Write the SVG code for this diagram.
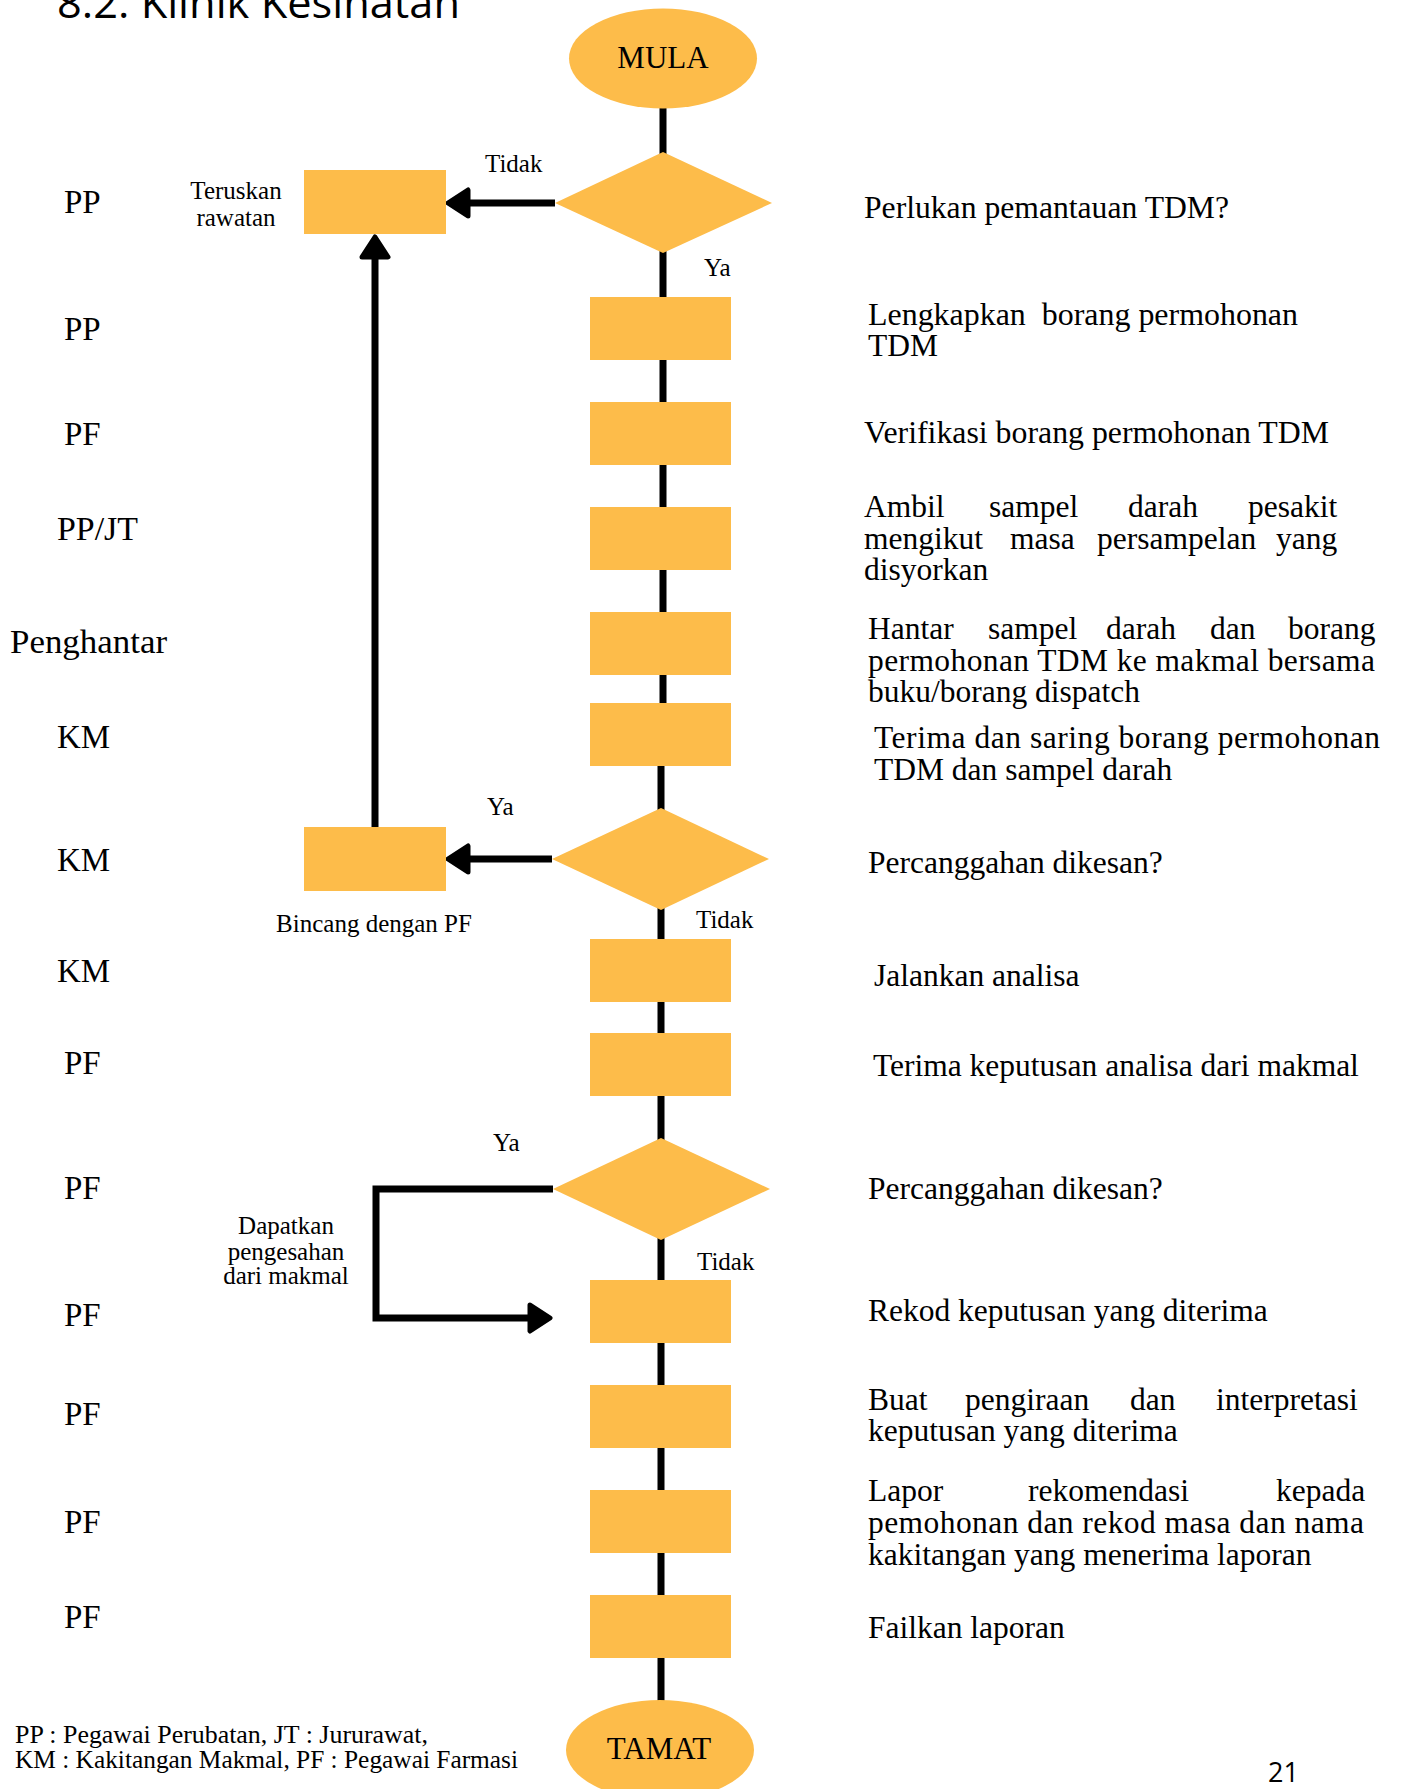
<svg xmlns="http://www.w3.org/2000/svg" width="1401" height="1789" viewBox="0 0 1401 1789">
<style>
.box{fill:#FDBC4A}
.t{font-family:"Liberation Serif","Times New Roman",serif;fill:#000}
.lab{font-size:33px}
.desc{font-size:31.5px}
.sm{font-size:25px}
.big{font-size:31px}
.conn{stroke:#000;stroke-width:7;fill:none;stroke-linejoin:miter}
.sans{font-family:"Open Sans","Liberation Sans",sans-serif;fill:#000}
</style>
<defs>
<marker id="ah" markerUnits="userSpaceOnUse" viewBox="-3 -17 28 34" markerWidth="28" markerHeight="34" refX="0" refY="0" orient="auto">
<path d="M0,-13 L20,0 L0,13 Z" fill="#000" stroke="#000" stroke-width="5" stroke-linejoin="round"/>
</marker>
</defs>
<rect width="1401" height="1789" fill="#fff"/>
<text class="sans" x="57" y="18" font-size="42" textLength="403" lengthAdjust="spacingAndGlyphs">8.2. Klinik Kesihatan</text>

<g id="connectors">
<path class="conn" d="M663,105 V720"/>
<path class="conn" d="M661,720 V1702"/>
<path class="conn" d="M555,203 H468" marker-end="url(#ah)"/>
<path class="conn" d="M552,859 H468" marker-end="url(#ah)"/>
<path class="conn" d="M375,830 V257" marker-end="url(#ah)"/>
<path class="conn" d="M553,1189 H376 V1318 H530" marker-end="url(#ah)"/>
</g>

<g id="mula"><ellipse class="box" cx="663" cy="58.5" rx="94" ry="50"/><text class="t big" x="663" y="68" text-anchor="middle">MULA</text></g>
<g id="d1"><polygon class="box" points="555,203 663,152 772,203 663,253"/></g>
<g id="teruskan"><rect class="box" x="304" y="170" width="142" height="64"/>
<text class="t sm" x="236" y="199" text-anchor="middle">Teruskan</text>
<text class="t sm" x="236" y="226" text-anchor="middle">rawatan</text></g>
<g id="r1"><rect class="box" x="590" y="297" width="141" height="63"/></g>
<g id="r2"><rect class="box" x="590" y="402" width="141" height="63"/></g>
<g id="r3"><rect class="box" x="590" y="507" width="141" height="63"/></g>
<g id="r4"><rect class="box" x="590" y="612" width="141" height="63"/></g>
<g id="r5"><rect class="box" x="590" y="703" width="141" height="63"/></g>
<g id="d2"><polygon class="box" points="552,859 661,808 769,859 661,910"/></g>
<g id="bincang"><rect class="box" x="304" y="827" width="142" height="64"/>
<text class="t sm" x="374" y="932" text-anchor="middle">Bincang dengan PF</text></g>
<g id="r6"><rect class="box" x="590" y="939" width="141" height="63"/></g>
<g id="r7"><rect class="box" x="590" y="1033" width="141" height="63"/></g>
<g id="d3"><polygon class="box" points="553,1189 661,1138 770,1189 661,1240"/></g>
<g id="dapatkan">
<text class="t sm" x="286" y="1234" text-anchor="middle">Dapatkan</text>
<text class="t sm" x="286" y="1260" text-anchor="middle">pengesahan</text>
<text class="t sm" x="286" y="1284" text-anchor="middle">dari makmal</text></g>
<g id="r8"><rect class="box" x="590" y="1280" width="141" height="63"/></g>
<g id="r9"><rect class="box" x="590" y="1385" width="141" height="63"/></g>
<g id="r10"><rect class="box" x="590" y="1490" width="141" height="63"/></g>
<g id="r11"><rect class="box" x="590" y="1595" width="141" height="63"/></g>
<g id="tamat"><ellipse class="box" cx="660" cy="1750" rx="94" ry="50"/><text class="t big" x="659" y="1759" text-anchor="middle">TAMAT</text></g>

<g id="branch-labels" class="t sm">
<text x="485" y="172">Tidak</text>
<text x="704" y="276">Ya</text>
<text x="487" y="815">Ya</text>
<text x="696" y="928">Tidak</text>
<text x="493" y="1151">Ya</text>
<text x="697" y="1270">Tidak</text>
</g>

<g id="roles" class="t lab">
<text x="64" y="213">PP</text>
<text x="64" y="340">PP</text>
<text x="64" y="445">PF</text>
<text x="57" y="540" textLength="81" lengthAdjust="spacingAndGlyphs">PP/JT</text>
<text x="10" y="653" textLength="157" lengthAdjust="spacingAndGlyphs">Penghantar</text>
<text x="57" y="748">KM</text>
<text x="57" y="871">KM</text>
<text x="57" y="982">KM</text>
<text x="64" y="1074">PF</text>
<text x="64" y="1199">PF</text>
<text x="64" y="1326">PF</text>
<text x="64" y="1425">PF</text>
<text x="64" y="1533">PF</text>
<text x="64" y="1628">PF</text>
</g>

<g id="steps" class="t desc">
<text x="864" y="218" textLength="365" lengthAdjust="spacingAndGlyphs">Perlukan pemantauan TDM?</text>
<text x="868" y="325" xml:space="preserve" textLength="430" lengthAdjust="spacingAndGlyphs">Lengkapkan  borang permohonan</text>
<text x="868" y="356">TDM</text>
<text x="864" y="443" textLength="465" lengthAdjust="spacingAndGlyphs">Verifikasi borang permohonan TDM</text>
<text y="517"><tspan x="864">Ambil</tspan><tspan x="989">sampel</tspan><tspan x="1128">darah</tspan><tspan x="1248">pesakit</tspan></text>
<text y="549"><tspan x="864">mengikut</tspan><tspan x="1010">masa</tspan><tspan x="1097">persampelan</tspan><tspan x="1276">yang</tspan></text>
<text x="864" y="580">disyorkan</text>
<text y="639"><tspan x="868">Hantar</tspan><tspan x="988">sampel</tspan><tspan x="1106">darah</tspan><tspan x="1210">dan</tspan><tspan x="1288">borang</tspan></text>
<text x="868" y="671" textLength="507" lengthAdjust="spacing">permohonan TDM ke makmal bersama</text>
<text x="868" y="702">buku/borang dispatch</text>
<text x="874" y="748" textLength="506" lengthAdjust="spacing">Terima dan saring borang permohonan</text>
<text x="874" y="780">TDM dan sampel darah</text>
<text x="868" y="873">Percanggahan dikesan?</text>
<text x="874" y="986">Jalankan analisa</text>
<text x="873" y="1076">Terima keputusan analisa dari makmal</text>
<text x="868" y="1199">Percanggahan dikesan?</text>
<text x="868" y="1321">Rekod keputusan yang diterima</text>
<text y="1410"><tspan x="868">Buat</tspan><tspan x="965">pengiraan</tspan><tspan x="1130">dan</tspan><tspan x="1216">interpretasi</tspan></text>
<text x="868" y="1441">keputusan yang diterima</text>
<text y="1501"><tspan x="868">Lapor</tspan><tspan x="1028">rekomendasi</tspan><tspan x="1276">kepada</tspan></text>
<text x="868" y="1533" textLength="496" lengthAdjust="spacing">pemohonan dan rekod masa dan nama</text>
<text x="868" y="1565">kakitangan yang menerima laporan</text>
<text x="868" y="1638">Failkan laporan</text>
</g>

<g id="legend" class="t sm">
<text x="15" y="1743" textLength="413" lengthAdjust="spacingAndGlyphs">PP : Pegawai Perubatan, JT : Jururawat,</text>
<text x="15" y="1768" textLength="503" lengthAdjust="spacingAndGlyphs">KM : Kakitangan Makmal, PF : Pegawai Farmasi</text>
</g>
<text class="sans" x="1268" y="1782" font-size="27">21</text>
</svg>
